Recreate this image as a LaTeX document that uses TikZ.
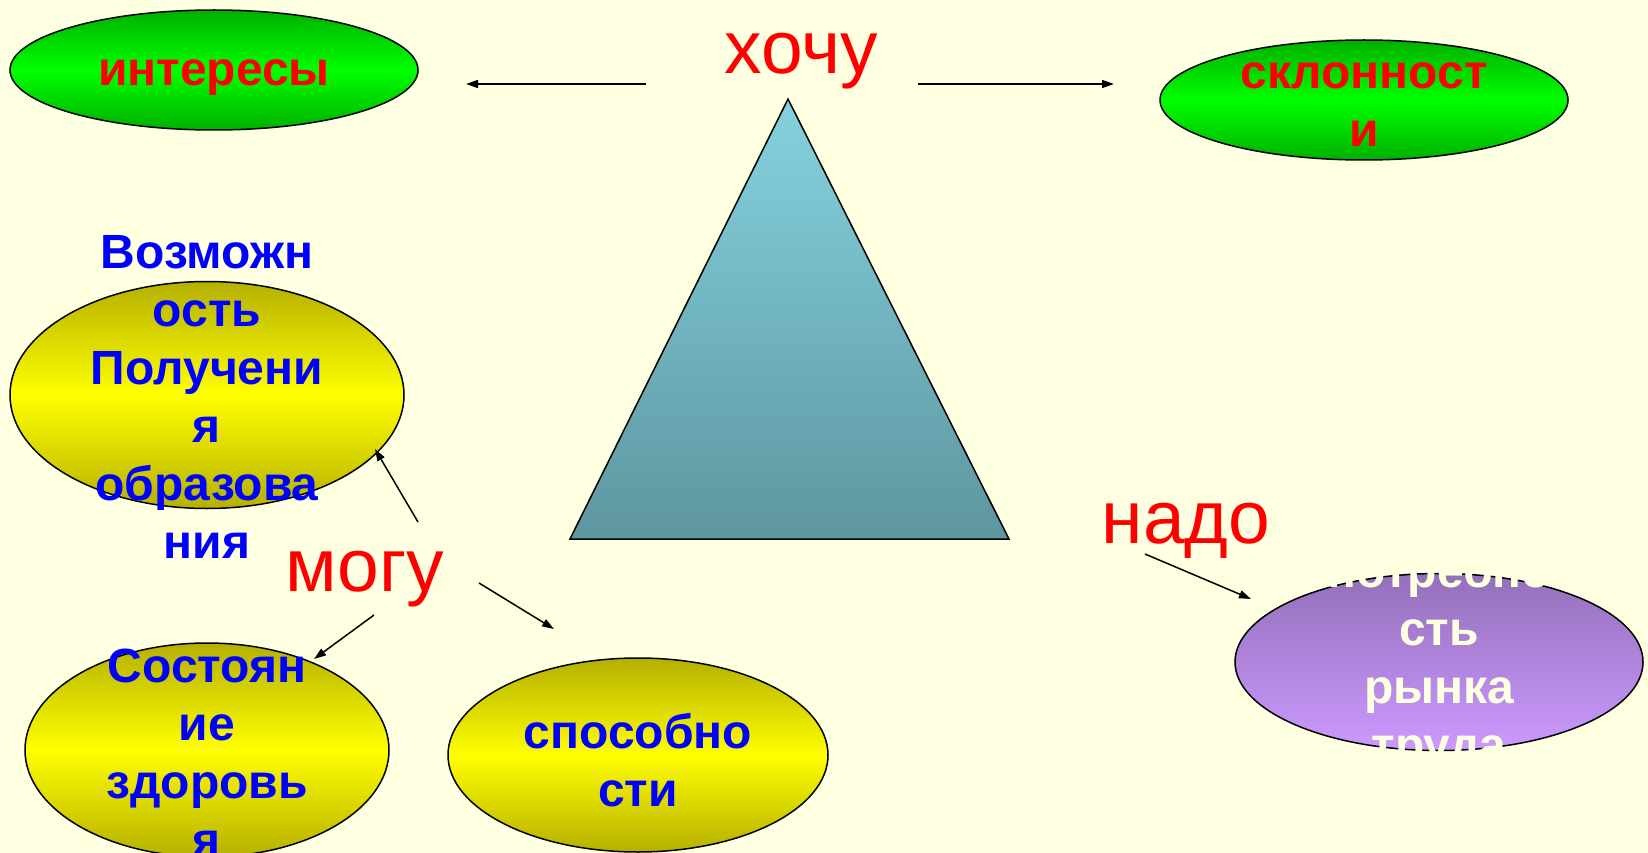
\documentclass[tikz,border=0pt]{standalone}
\usepackage{fontspec}
\setmainfont{Liberation Sans}
\usetikzlibrary{shapes.geometric,arrows.meta}
\definecolor{bg}{HTML}{FFFFE1}
\definecolor{grDark}{HTML}{00B000}
\definecolor{grLight}{HTML}{00FF00}
\definecolor{yeDark}{HTML}{B5B000}
\definecolor{yeLight}{HTML}{FFFF00}
\definecolor{puTop}{HTML}{9370BA}
\definecolor{puBot}{HTML}{CC99FF}
\definecolor{trTop}{HTML}{84D2DE}
\definecolor{trBot}{HTML}{5E96A0}
\definecolor{txRed}{HTML}{FF0000}
\definecolor{txBlue}{HTML}{0000FF}
\tikzset{
  ell/.style={ellipse, draw=black, line width=1.5pt, inner sep=0pt, outer sep=0pt},
  greenell/.style={ell, top color=grDark, bottom color=grDark, middle color=grLight},
  yellowell/.style={ell, top color=yeDark, bottom color=yeDark, middle color=yeLight},
  purpleell/.style={ell, top color=puTop, bottom color=puBot},
  lbl/.style={align=center, font=\fontsize{48}{58}\selectfont\bfseries, inner sep=0pt},
  redlbl/.style={lbl, text=txRed},
  bluelbl/.style={lbl, text=txBlue},
  whitelbl/.style={lbl, text=bg},
  word/.style={font=\fontsize{75}{90}\selectfont, text=txRed, inner sep=0pt, anchor=base},
  arr/.style={line width=1.5pt, -{Triangle[length=12pt,width=8pt]}}
}
\begin{document}
\begin{tikzpicture}[x=1pt,y=-1pt]
\fill[bg] (0,0) rectangle (1648,853);
\useasboundingbox (0,0) rectangle (1648,853);

% triangle
\draw[line width=1.5pt, top color=trTop, bottom color=trBot] (788,99) -- (1009,539) -- (570,539) -- cycle;

% ellipses
\node[greenell, minimum width=408pt, minimum height=120pt] (interesy) at (214,70) {};
\node[greenell, minimum width=408pt, minimum height=120pt] (sklon) at (1364,100) {};
\node[yellowell, minimum width=394pt, minimum height=227pt] (vozm) at (207,395) {};
\node[yellowell, minimum width=364pt, minimum height=214pt] (sost) at (207,750) {};
\node[yellowell, minimum width=380pt, minimum height=194pt] (spos) at (638,755) {};
\node[purpleell, minimum width=408pt, minimum height=177pt] (potr) at (1439,662) {};

% ellipse texts
\node[redlbl] (tInteresy) at (214,78) {интересы};
\node[redlbl] (tSklon) at (1364,105) {склонност\\и};
\node[bluelbl] (tVozm) at (207,397) {Возможн\\ость\\Получени\\я\\образова\\ния};
\node[bluelbl] (tSost) at (207,753) {Состоян\\ие\\здоровь\\я};
\node[bluelbl] (tSpos) at (638,760) {способно\\сти};
\node[whitelbl] (tPotr) at (1439,662) {потребно\\сть\\рынка\\труда};

% key words
\node[word] (hochu) at (801,74) {хочу};
\node[word] (mogu) at (365,591) {могу};
\node[word] (nado) at (1186,543) {надо};

% arrow end points
\coordinate (h1) at (646,84);
\coordinate (h1e) at (466,84);
\coordinate (h2) at (918,84);
\coordinate (h2e) at (1114,84);
\coordinate (n1) at (1145,554);
\coordinate (n1e) at (1251,599);
\coordinate (m1) at (418,522);
\coordinate (m1e) at (375,449);
\coordinate (m2) at (374,615);
\coordinate (m2e) at (314,659);
\coordinate (m3) at (479,583);
\coordinate (m3e) at (554,629);

\draw[arr] (h1) -- (h1e);
\draw[arr] (h2) -- (h2e);
\draw[arr] (n1) -- (n1e);
\draw[arr] (m1) -- (m1e);
\draw[arr] (m2) -- (m2e);
\draw[arr] (m3) -- (m3e);
\end{tikzpicture}
\end{document}
